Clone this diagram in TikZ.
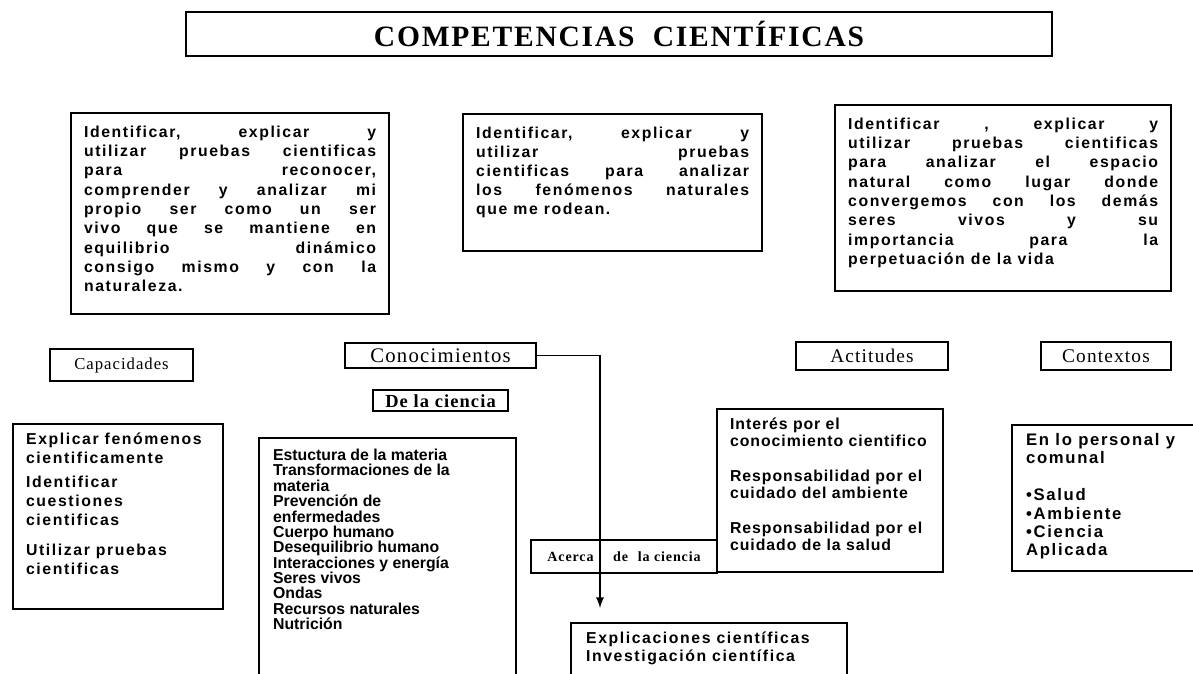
\documentclass[tikz,border=0pt]{standalone}
\usepackage{fontspec}
\setmainfont{Liberation Serif}
\newfontfamily\boxfont[LetterSpace=10]{Liberation Sans}
\newfontfamily\boxfontb[LetterSpace=6]{Liberation Sans}
\newfontfamily\listfont{Liberation Sans}
\newfontfamily\labfont[LetterSpace=6]{Liberation Serif}
\usetikzlibrary{positioning}
\newcommand{\tbox}[3]{\parbox[t][#2][t]{#1}{#3}}

\begin{document}
\begin{tikzpicture}[x=0.02cm, y=-0.02cm,
	lab/.style={draw, line width=1.3pt, inner sep=0pt, font=\labfont},
	txt/.style={draw, line width=1.3pt, anchor=north west, inner xsep=0.26cm, inner ysep=0.25cm,
		font=\boxfont\bfseries\fontsize{9}{11}\selectfont}]
	\useasboundingbox (0,0) rectangle (1193,673);

	\node[draw, line width=1.5pt, minimum width=17.32cm, minimum height=0.88cm, inner sep=0pt,
		font=\labfont\bfseries\fontsize{16.8}{17}\selectfont] (titulo) at (619,34) {COMPETENCIAS\ \ CIENTÍFICAS};

	\node[txt] (compA) at (70,112) {\tbox{5.84cm}{3.52cm}{Identificar,\hfill explicar\hfill y\\
		utilizar\hfill pruebas\hfill cientificas\\
		para\hfill reconocer,\\
		comprender\hfill y\hfill analizar\hfill mi\\
		propio\hfill ser\hfill como\hfill un\hfill ser\\
		vivo\hfill que\hfill se\hfill mantiene\hfill en\\
		equilibrio\hfill dinámico\\
		consigo\hfill mismo\hfill y\hfill con\hfill la\\
		naturaleza.}};
	\node[txt] (compB) at (462,113) {\tbox{5.46cm}{2.24cm}{\fontsize{9}{10.8}\selectfont
		Identificar,\hfill explicar\hfill y\\
		utilizar\hfill pruebas\\
		cientificas\hfill para\hfill analizar\\
		los\hfill fenómenos\hfill naturales\\
		que me rodean.}};
	\node[txt] (compC) at (834,104) {\tbox{6.2cm}{3.22cm}{\fontsize{9}{11}\selectfont
		Identificar\hfill ,\hfill explicar\hfill y\\
		utilizar\hfill pruebas\hfill cientificas\\
		para\hfill analizar\hfill el\hfill espacio\\
		natural\hfill como\hfill lugar\hfill donde\\
		convergemos\hfill con\hfill los\hfill demás\\
		seres\hfill vivos\hfill y\hfill su\\
		importancia\hfill para\hfill la\\
		perpetuación de la vida}};

	\node[lab, minimum width=2.86cm, minimum height=0.64cm, font=\labfont\fontsize{9.5}{10}\selectfont] (lcapac) at (121.5,365) {Capacidades};
	\node[lab, minimum width=3.82cm, minimum height=0.5cm, font=\labfont\fontsize{11.8}{12}\selectfont] (lconoc) at (440.5,355.5) {Conocimientos};
	\node[lab, minimum width=2.7cm, minimum height=0.42cm, font=\labfont\bfseries\fontsize{10.5}{11}\selectfont,
		below=0.4cm of lconoc] (lciencia) {De\ la ciencia};
	\node[lab, minimum width=3.04cm, minimum height=0.56cm, font=\labfont\fontsize{11}{12}\selectfont] (lactit) at (872,356) {Actitudes};
	\node[lab, minimum width=2.6cm, minimum height=0.56cm, font=\labfont\fontsize{11}{12}\selectfont] (lcontext) at (1106,356) {Contextos};

	\node[txt, inner ysep=0.18cm] (capac) at (12,423) {\tbox{3.68cm}{3.34cm}{\fontsize{9}{10.8}\selectfont
		Explicar fenómenos\\
		cientificamente\\[2.5pt]
		Identificar\\
		cuestiones\\
		cientificas\\[6.5pt]
		Utilizar pruebas\\
		cientificas}};
	\node[txt, inner xsep=0.28cm, inner ysep=0.22cm, font=\listfont\bfseries\fontsize{9}{8.75}\selectfont] (conoc) at (258,437)
		{\tbox{4.58cm}{4.5cm}{Estuctura de la materia\\
		Transformaciones de la\\
		materia\\
		Prevención de\\
		enfermedades\\
		Cuerpo humano\\
		Desequilibrio humano\\
		Interacciones y energía\\
		Seres vivos\\
		Ondas\\
		Recursos naturales\\
		Nutrición}};
	\node[txt, inner xsep=0.26cm, inner ysep=0.18cm, font=\boxfontb\bfseries] (actit) at (716,408) {\tbox{4cm}{2.9cm}{\fontsize{9}{9.8}\selectfont
		Interés por el\\
		conocimiento cientifico\\[9.8pt]
		Responsabilidad por el\\
		cuidado del ambiente\\[9.8pt]
		Responsabilidad por el\\
		cuidado de la salud}};
	\node[txt, inner xsep=0.28cm, inner ysep=0.16cm] (context) at (1011,424) {\tbox{3.24cm}{2.6cm}{\fontsize{9.5}{10.5}\selectfont
		En lo personal y\\
		comunal\\[10.5pt]
		•Salud\\
		•Ambiente\\
		•Ciencia\\
		Aplicada}};
	\node[lab, minimum width=3.72cm, minimum height=0.66cm, font=\labfont\bfseries\fontsize{8}{9}\selectfont] (acerca) at (624,556.5)
		{Acerca\hspace{1.4em}de\hspace{0.7em}la ciencia};
	\node[txt, inner xsep=0.3cm, inner ysep=0.18cm] (explic) at (570,622) {\tbox{4.92cm}{0.9cm}{\fontsize{9}{10.2}\selectfont
		Explicaciones científicas\\
		Investigación científica}};

	\coordinate (flecha) at (600,608);
	\draw[-latex, line width=1.1pt] (lconoc.east) -| (flecha);

\end{tikzpicture}
\end{document}
